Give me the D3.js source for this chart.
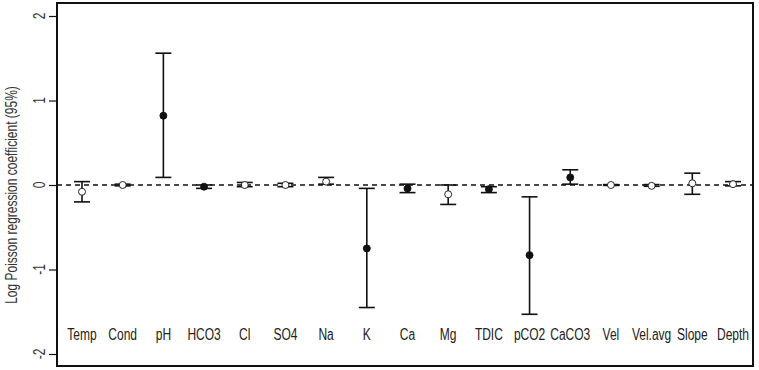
<!DOCTYPE html>
<html>
<head>
<meta charset="utf-8">
<script src="https://cdn.jsdelivr.net/npm/d3@7"></script>
<style>
  body { margin: 0; background: #fff; }
  text { font-family: "Liberation Sans", Arial, sans-serif; }
</style>
</head>
<body>
<script>
// variables in the order they are plotted
var vars = ["Temp", "Cond", "pH", "HCO3", "Cl", "SO4", "Na", "K", "Ca", "Mg",
            "TDIC", "pCO2", "CaCO3", "Vel", "Vel.avg", "Slope", "Depth"]
// log poisson regression coefficient and its 95% interval
var coef  = [-0.08, 0.00, 0.82, -0.02, 0.00, 0.00, 0.04, -0.75, -0.04, -0.11,
             -0.05, -0.83, 0.09, 0.00, -0.01, 0.02, 0.01]
var lower = [-0.20, -0.01, 0.09, -0.04, -0.02, -0.02, 0.01, -1.45, -0.09, -0.23,
             -0.09, -1.53, 0.01, -0.005, -0.015, -0.11, -0.01]
var upper = [0.04, 0.01, 1.56, 0.00, 0.03, 0.02, 0.09, -0.04, 0.01, 0.00,
             -0.02, -0.14, 0.18, 0.005, 0.005, 0.14, 0.04]
// filled = significant
var signif = [false, false, true, true, false, false, false, true, true, false,
              true, true, true, false, false, false, false]
var yTicks = [-2, -1, 0, 1, 2]

var width = 759, height = 370
var box = {left: 57, right: 753, top: 3, bottom: 366}
var narrow = 0.75   // squeeze text horizontally, like a narrow font

var svg = d3.select("body").append("svg")
            .attr("width", width)
            .attr("height", height)

var data = vars.map(function(v, i){
  return {name: v, c: coef[i], lo: lower[i], hi: upper[i], fill: signif[i]}
})

var xScale = d3.scalePoint()
               .domain(vars)
               .range([82, 733])

var yScale = d3.scaleLinear()
               .domain([-2, 2])
               .range([354, 16])

// zero reference line
svg.append("line")
   .attr("x1", box.left).attr("x2", box.right)
   .attr("y1", yScale(0)).attr("y2", yScale(0))
   .attr("stroke", "#111")
   .attr("stroke-width", 1.3)
   .attr("stroke-dasharray", "5,4")

var g = svg.selectAll(".bar")
           .data(data)
           .enter()
           .append("g")
           .attr("class", "bar")

var cap = 8
g.append("line")
 .attr("x1", function(d){ return xScale(d.name) })
 .attr("x2", function(d){ return xScale(d.name) })
 .attr("y1", function(d){ return yScale(d.hi) })
 .attr("y2", function(d){ return yScale(d.lo) })
 .attr("stroke", "#111").attr("stroke-width", 1.6)

g.append("line")
 .attr("x1", function(d){ return xScale(d.name) - cap })
 .attr("x2", function(d){ return xScale(d.name) + cap })
 .attr("y1", function(d){ return yScale(d.hi) })
 .attr("y2", function(d){ return yScale(d.hi) })
 .attr("stroke", "#111").attr("stroke-width", 1.6)

g.append("line")
 .attr("x1", function(d){ return xScale(d.name) - cap })
 .attr("x2", function(d){ return xScale(d.name) + cap })
 .attr("y1", function(d){ return yScale(d.lo) })
 .attr("y2", function(d){ return yScale(d.lo) })
 .attr("stroke", "#111").attr("stroke-width", 1.6)

g.append("circle")
 .attr("cx", function(d){ return xScale(d.name) })
 .attr("cy", function(d){ return yScale(d.c) })
 .attr("r", 3.5)
 .attr("fill", function(d){ return d.fill ? "#111" : "#fff" })
 .attr("stroke", "#111")
 .attr("stroke-width", 0.9)

// category labels inside the box
svg.selectAll(".lab")
   .data(vars)
   .enter()
   .append("text")
   .attr("class", "lab")
   .attr("transform", function(d){
     return "translate(" + xScale(d) + ",340) scale(" + narrow + ",1)"
   })
   .attr("text-anchor", "middle")
   .style("font-size", "16px")
   .attr("fill", "#222")
   .text(function(d){ return d })

// y axis, ticks only; labels drawn rotated
var yAxis = d3.axisLeft(yScale)
              .tickValues(yTicks)
              .tickSize(7)
              .tickFormat("")

var ax = svg.append("g")
            .attr("transform", "translate(" + (box.left - 1) + ",0)")
            .call(yAxis)
ax.select(".domain").remove()
ax.selectAll("line").attr("stroke", "#111").attr("stroke-width", 1.2)

svg.selectAll(".ylab")
   .data(yTicks)
   .enter()
   .append("text")
   .attr("class", "ylab")
   .attr("transform", function(d){
     return "translate(45," + yScale(d) + ") rotate(-90) scale(" + narrow + ",1)"
   })
   .attr("text-anchor", "middle")
   .style("font-size", "16px")
   .attr("fill", "#333")
   .text(function(d){ return d })

// plot border
svg.append("rect")
   .attr("x", box.left)
   .attr("y", box.top)
   .attr("width", box.right - box.left)
   .attr("height", box.bottom - box.top)
   .attr("fill", "none")
   .attr("stroke", "#111")
   .attr("stroke-width", 2)

// y axis label
svg.append("text")
   .attr("transform", "translate(17,195) rotate(-90) scale(" + narrow + ",1)")
   .attr("text-anchor", "middle")
   .style("font-size", "16px")
   .attr("fill", "#333")
   .text("Log Poisson regression coefficient (95%)")
</script>
</body>
</html>
